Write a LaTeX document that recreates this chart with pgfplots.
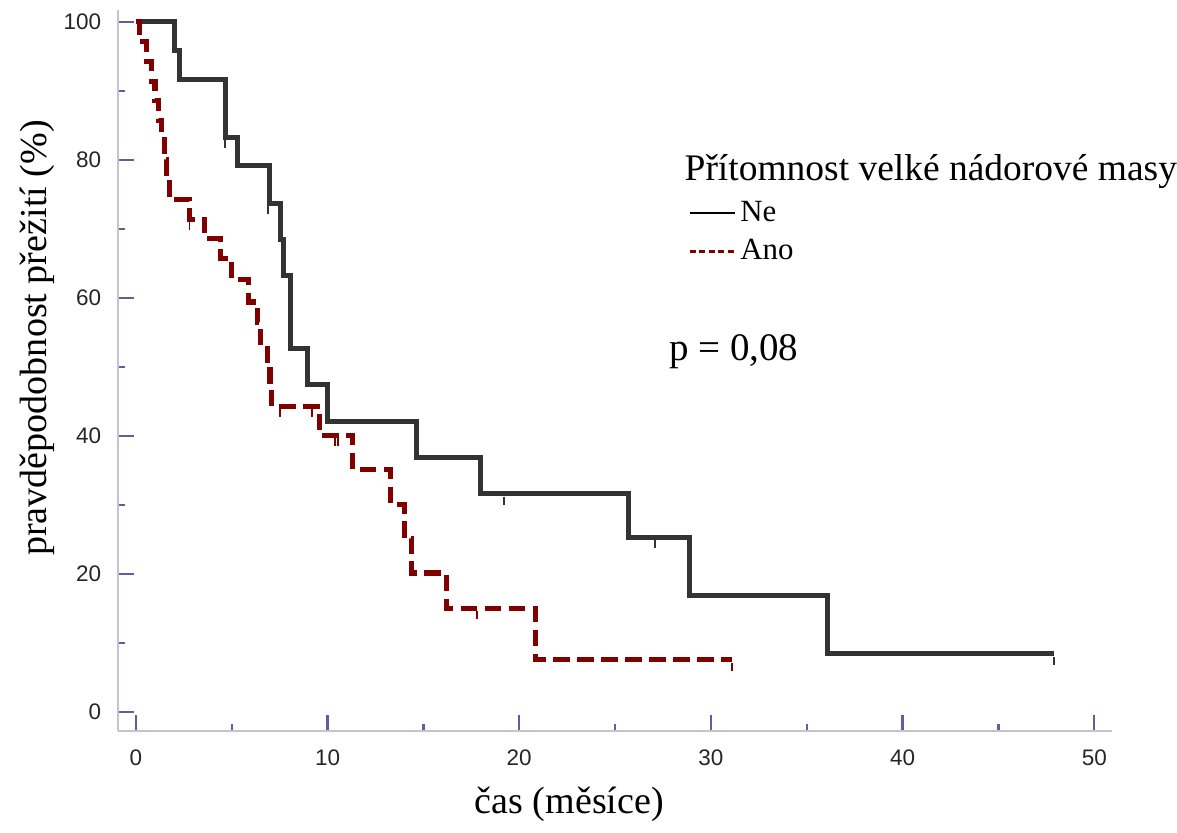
\documentclass[border=0pt]{standalone}
\usepackage{pgfplots}
\pgfplotsset{compat=1.18}
\usepackage{fontspec}
\setmainfont{Liberation Serif}
\newfontfamily\ticksans{Liberation Sans}
\definecolor{kmblack}{HTML}{333333}
\definecolor{kmred}{HTML}{800000}
\definecolor{axgrey}{HTML}{C4C4CC}
\definecolor{tickblue}{HTML}{5F5F9E}
\begin{document}
\begin{tikzpicture}
\begin{axis}[
  scale only axis, width=331.7pt, height=240.3pt,
  xmin=-0.94, xmax=50.94, ymin=-2.75, ymax=101.7,
  axis lines=left,
  axis line style={-, color=axgrey, line width=0.6pt},
  xtick={0,10,...,50}, minor xtick={5,15,...,45},
  ytick={0,20,...,100}, minor ytick={10,30,...,90},
  tick align=inside,
  major tick length=5.3pt, minor tick length=2.3pt,
  every tick/.style={color=tickblue, line width=0.75pt},
  /pgf/number format/assume math mode=true,
  ticklabel style={font=\ticksans\fontsize{7.5}{9}\selectfont, text=black!85},
  yticklabel style={xshift=-2pt},
  xticklabel style={yshift=-3pt},
  xlabel={čas (měsíce)},
  ylabel={pravděpodobnost přežití (\%)},
  label style={font=\fontsize{12.7}{15}\selectfont},
  xlabel style={at={(axis description cs:0.454,-0.1028)}, anchor=center},
  ylabel style={at={(axis description cs:-0.0814,0.545)}, anchor=center, rotate=0},
  legend style={at={(axis cs:28.8,74.8)}, anchor=north west, draw=none, fill=none,
    inner sep=0pt, row sep=1.5pt, font=\fontsize{10.3}{12}\selectfont,
    nodes={inner sep=1.5pt}},
  legend cell align=left,
  legend image code/.code={\draw[#1] (0pt,0pt) -- (15pt,0pt);},
  clip=false,
]
% Ne
\addplot[const plot, color=kmblack, line width=1.7pt, forget plot] coordinates {
(0,100) (2.0,95.8) (2.3,91.7) (4.7,83.3) (5.3,79.2) (6.95,73.7) (7.55,68.4)
(7.7,63.2) (8.07,52.6) (8.97,47.4) (10.0,42.1) (14.65,36.9) (18.0,31.6)
(25.7,25.3) (28.9,16.9) (36.1,8.4) (47.9,8.4)
};
% Ano
\addplot[const plot, color=kmred, line width=1.7pt, dash pattern=on 5.5pt off 2.5pt, forget plot] coordinates {
(0,100) (0.2,97.1) (0.55,94.3) (0.8,91.4) (1.0,88.6) (1.2,85.7) (1.35,82.9)
(1.5,80.0) (1.6,77.1) (1.75,74.3) (2.8,71.4) (3.6,68.6) (4.4,65.7) (5.0,62.6)
(5.9,59.4) (6.35,56.4) (6.5,53.5) (6.85,50.4) (7.0,47.3) (7.1,44.3) (9.6,40.1)
(11.3,35.1) (13.3,30.1) (14.0,25.1) (14.4,20.1) (16.2,15.0) (20.85,7.5) (31.1,7.5)
};
% censor marks Ne
\addplot[only marks, mark=|, mark size=1.3pt, color=kmblack, mark options={line width=0.6pt}, forget plot] coordinates {
(4.65,82.3) (6.9,72.7) (19.2,30.6) (27.1,24.3) (47.9,7.4)
};
% censor marks Ano
\addplot[only marks, mark=|, mark size=1.3pt, color=kmred, mark options={line width=0.6pt}, forget plot] coordinates {
(2.8,70.4) (7.5,43.3) (9.2,43.3) (10.4,39.1) (10.55,39.1) (17.8,14.0) (31.1,6.5)
};
\addlegendimage{color=black, line width=0.6pt}
\addlegendentry{Ne}
\addlegendimage{color=kmred, line width=0.8pt, dash pattern=on 2pt off 1.2pt}
\addlegendentry{Ano}
\node[anchor=west, inner sep=0pt, font=\fontsize{12.5}{15}\selectfont] at (axis cs:28.6,78.3) {Přítomnost velké nádorové masy};
\node[anchor=west, inner sep=0pt, font=\fontsize{13}{15}\selectfont] at (axis cs:27.8,52.2) {p = 0,08};
\end{axis}
\path (current axis.south west) ++(-39.3pt,-33.3pt) rectangle ++(392.3pt,277pt);
\end{tikzpicture}
\end{document}
